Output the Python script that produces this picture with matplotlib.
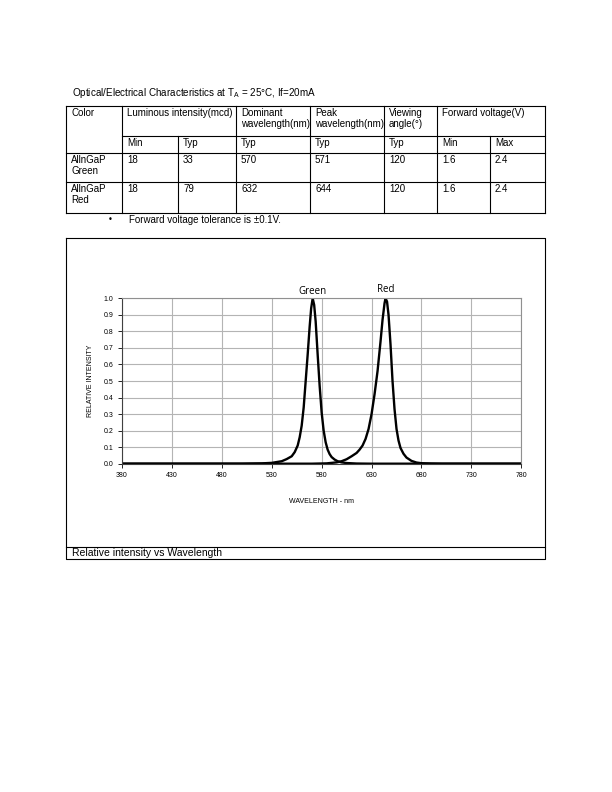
import matplotlib
matplotlib.use("Agg")
from matplotlib import pyplot as plt

# table data
col_edges = [66, 122, 178, 236, 310, 384, 437, 490, 545]
row_edges = [106, 136, 153, 182, 213]
header_top = ["Color", "Luminous intensity(mcd)", "Dominant\nwavelength(nm)",
              "Peak\nwavelength(nm)", "Viewing\nangle(°)", "Forward voltage(V)"]
header_sub = ["Min", "Typ", "Typ", "Typ", "Typ", "Min", "Max"]
colors = ["AllnGaP\nGreen", "AllnGaP\nRed"]
rows = [["18", "33", "570", "571", "120", "1.6", "2.4"],
        ["18", "79", "632", "644", "120", "1.6", "2.4"]]

# spectrum data
green_wl = [380, 500, 520, 530, 540, 545, 550, 553, 556, 558, 560, 562, 564, 566, 568,
            569.5, 571, 572.5, 574, 576, 578, 580, 582, 584, 586, 588, 590, 593, 596,
            600, 605, 615, 630, 780]
green_i = [0, 0, 0.002, 0.005, 0.015, 0.028, 0.045, 0.07, 0.11, 0.16, 0.23, 0.34, 0.5,
           0.66, 0.83, 0.94, 1.0, 0.96, 0.86, 0.66, 0.47, 0.31, 0.2, 0.13, 0.085, 0.058,
           0.04, 0.025, 0.015, 0.008, 0.004, 0.001, 0, 0]
red_wl = [380, 570, 585, 595, 600, 605, 610, 615, 618, 621, 624, 627, 630, 633, 636, 639,
          641, 643, 644, 645.5, 647, 649, 651, 653, 655, 657, 659, 662, 665, 670, 675,
          680, 690, 700, 780]
red_i = [0, 0, 0.002, 0.008, 0.015, 0.027, 0.045, 0.065, 0.085, 0.11, 0.15, 0.21, 0.3,
         0.42, 0.56, 0.74, 0.87, 0.97, 1.0, 0.98, 0.9, 0.72, 0.5, 0.33, 0.21, 0.14, 0.095,
         0.06, 0.037, 0.017, 0.007, 0.003, 0.001, 0, 0]
x_ticks = [380, 430, 480, 530, 580, 630, 680, 730, 780]
y_ticks = [0.0, 0.1, 0.2, 0.3, 0.4, 0.5, 0.6, 0.7, 0.8, 0.9, 1.0]

W, H = 612, 792
narrow = ["Liberation Sans Narrow", "Liberation Sans", "DejaVu Sans"]

fig = plt.figure(figsize=(W / 100, H / 100), dpi=100)
page = fig.add_axes([0, 0, 1, 1])
page.set_xlim(0, W)
page.set_ylim(H, 0)
page.axis("off")

lw = 0.8
fs = 7

page.text(72, 93, "Optical/Electrical Characteristics at T$_\\mathregular{A}$ = 25°C, If=20mA",
          fontsize=7.1, family=narrow, va="center", ha="left")

# table grid
page.plot([col_edges[0], col_edges[-1]], [row_edges[0]] * 2, color="k", lw=lw)
page.plot([col_edges[0], col_edges[-1]], [row_edges[-1]] * 2, color="k", lw=lw)
page.plot([col_edges[1], col_edges[-1]], [row_edges[1]] * 2, color="k", lw=lw)
for y in row_edges[2:-1]:
    page.plot([col_edges[0], col_edges[-1]], [y, y], color="k", lw=lw)
for i, x in enumerate(col_edges):
    if i in (2, 7):
        page.plot([x, x], [row_edges[1], row_edges[-1]], color="k", lw=lw)
    else:
        page.plot([x, x], [row_edges[0], row_edges[-1]], color="k", lw=lw)

top_cols = [0, 1, 3, 4, 5, 6]
for lab, ci in zip(header_top, top_cols):
    page.text(col_edges[ci] + 5, row_edges[0] + 2, lab, fontsize=fs, family=narrow,
              va="top", ha="left", linespacing=1.1)
for j, lab in enumerate(header_sub):
    page.text(col_edges[j + 1] + 5, row_edges[1] + 2, lab, fontsize=fs, family=narrow,
              va="top", ha="left")
for r, (name, vals) in enumerate(zip(colors, rows)):
    y0 = row_edges[2 + r] + 2
    page.text(col_edges[0] + 5, y0, name, fontsize=fs, family=narrow, va="top",
              ha="left", linespacing=1.1)
    for j, v in enumerate(vals):
        page.text(col_edges[j + 1] + 5, y0, v, fontsize=fs, family=narrow, va="top",
                  ha="left")

page.text(108, 220, "•", fontsize=6, va="center", ha="left")
page.text(129, 220, "Forward voltage tolerance is ±0.1V.", fontsize=fs, family=narrow,
          va="center", ha="left")

# chart box
page.plot([66, 545, 545, 66, 66], [238, 238, 559, 559, 238], color="k", lw=lw)
page.plot([66, 545], [547, 547], color="k", lw=lw)
page.text(72, 553, "Relative intensity vs Wavelength", fontsize=7.5, family=narrow,
          va="center", ha="left")

# spectrum plot
ax = fig.add_axes([122 / W, 1 - 463.7 / H, (521.3 - 122) / W, (463.7 - 298.3) / H])
ax.plot(green_wl, green_i, color="k", lw=1.7)
ax.plot(red_wl, red_i, color="k", lw=1.7)
ax.set_xlim(380, 780)
ax.set_ylim(0, 1.0)
ax.set_xticks(x_ticks)
ax.set_yticks(y_ticks)
ax.set_xticklabels([str(v) for v in x_ticks], fontsize=5, family="Liberation Sans")
ax.set_yticklabels(["%.1f" % v for v in y_ticks], fontsize=5, family="Liberation Sans")
ax.grid(True, color="#b4b4b4", lw=0.8)
ax.set_axisbelow(True)
for s in ("top", "right"):
    ax.spines[s].set_color("#909090")
    ax.spines[s].set_linewidth(0.8)
for s in ("left", "bottom"):
    ax.spines[s].set_color("#404040")
    ax.spines[s].set_linewidth(0.8)
ax.tick_params(length=3, width=0.6, direction="out", pad=3)
ax.set_xlabel("WAVELENGTH - nm", fontsize=5, family="Liberation Sans", labelpad=14)
ax.set_ylabel("RELATIVE INTENSITY", fontsize=5, family="Liberation Sans", labelpad=7)
ax.text(571, 1.005, "Green", fontsize=7, family="Open Sans", ha="center", va="bottom",
        clip_on=False)
ax.text(644, 1.02, "Red", fontsize=7, family="Open Sans", ha="center", va="bottom",
        clip_on=False)

fig.savefig("out.png", dpi=100)
